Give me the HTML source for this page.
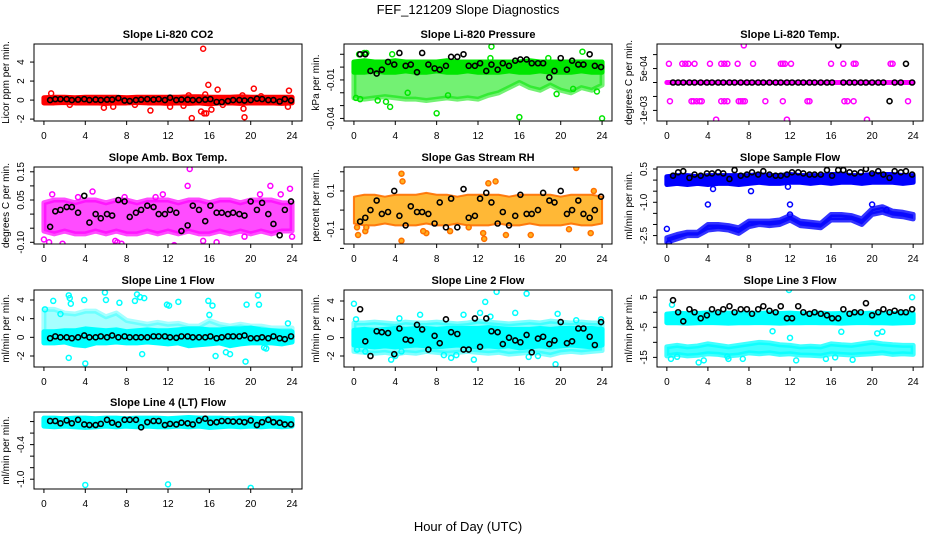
<!DOCTYPE html>
<html><head><meta charset="utf-8"><style>
body{margin:0;background:#fff;}
svg{display:block;font-family:"Liberation Sans",sans-serif;}
</style></head><body>
<svg id="chart" width="936" height="540" viewBox="0 0 936 540">
<rect width="936" height="540" fill="#fff"/>
<text x="468" y="14" text-anchor="middle" font-size="13">FEF_121209  Slope Diagnostics</text>
<text x="468" y="531" text-anchor="middle" font-size="13">Hour of Day (UTC)</text>
</svg>
<script>
const blackHours=[0.6,1.1,1.6,2.2,2.7,3.3,3.9,4.4,5,5.5,6.1,6.6,7.2,7.8,8.3,8.9,9.4,10,10.6,11.1,11.7,12.2,12.8,13.3,13.9,14.4,15,15.6,16.1,16.7,17.2,17.8,18.3,18.9,19.4,20,20.6,21.1,21.7,22.2,22.8,23.3,23.9];
const bandHours=[0,1,2,3,4,5,6,7,8,9,10,11,12,13,14,15,16,17,18,19,20,21,22,23,24];
const xTicks=[0,4,8,12,16,20,24];

// CO2
const co2BandLo=[-0.3,-0.3,-0.25,-0.3,-0.3,-0.3,-0.35,-0.3,-0.3,-0.25,-0.3,-0.3,-0.35,-0.3,-0.35,-0.3,-0.4,-0.3,-0.3,-0.35,-0.3,-0.3,-0.3,-0.35,-0.3];
const co2BandHi=[0.25,0.3,0.3,0.25,0.3,0.3,0.3,0.3,0.25,0.3,0.3,0.3,0.3,0.3,0.35,0.35,0.3,0.3,0.3,0.35,0.3,0.3,0.3,0.3,0.3];
const co2OutX=[0.7,15.4,15.9,16.8,20.3,23.7,14.3,19.4,10.3,15.2,15.5,15.7,16.2,19.3,5.8,6.7,12.2,23.6,2.5,8.8,14,15.6,19.2,21,13.5,17.3];
const co2OutY=[0.7,5.4,1.6,1.1,1.2,1,-1.9,-1.8,-1.1,-1.2,-1.4,-1.4,-1,-0.9,-0.8,-0.7,-0.7,-0.7,-0.5,-0.5,0.5,0.6,0.5,0.4,-0.6,-0.5];
const co2Black=[0,0.1,0.1,0.1,0,0.05,0.1,0,0.05,0,0.05,0.05,0.2,-0.05,-0.1,0,0.05,0.1,0.05,0.1,0,0.25,0,0.05,0.05,0,0,0.05,0.1,-0.2,-0.2,-0.1,0,0,-0.05,0,0.15,0.1,0,0,-0.15,0.1,-0.05];

// Pressure
const presBandLo=[-0.004,-0.004,-0.003,-0.004,-0.004,-0.003,-0.004,-0.004,-0.003,-0.004,-0.004,-0.003,-0.004,-0.004,-0.004,-0.003,-0.004,-0.004,-0.003,-0.004,-0.004,-0.004,-0.003,-0.004,-0.004];
const presBandHi=[0.004,0.005,0.004,0.004,0.005,0.004,0.004,0.004,0.004,0.005,0.004,0.004,0.004,0.004,0.004,0.004,0.004,0.005,0.004,0.004,0.004,0.004,0.004,0.004,0.004];
const presBand2Lo=[-0.024,-0.025,-0.024,-0.023,-0.024,-0.025,-0.025,-0.026,-0.025,-0.024,-0.025,-0.024,-0.025,-0.022,-0.02,-0.016,-0.012,-0.016,-0.018,-0.014,-0.018,-0.02,-0.016,-0.018,-0.014];
const presBand2Hi=[-0.003,-0.003,-0.003,-0.003,-0.003,-0.003,-0.003,-0.003,-0.003,-0.003,-0.003,-0.003,-0.003,-0.003,-0.003,-0.003,-0.003,-0.003,-0.003,-0.003,-0.003,-0.003,-0.003,-0.003,-0.003];
const presOutX=[0.2,0.5,1.2,3.5,3.7,8,16,24,13.3,22.1,0.6,1,2.3,3.1,18.8,19.6,21.2,23.5,13.2,5.2,9.1];
const presOutY=[-0.024,0.01,0.011,-0.031,0.01,-0.036,-0.039,-0.04,0.016,0.012,-0.025,0.011,-0.026,-0.027,0.007,-0.021,-0.017,-0.019,0.007,-0.02,-0.022];
const presBlack=[0.01,0.01,-0.003,-0.005,-0.002,0.004,0.002,0.011,0.001,0.002,-0.004,0.011,0.002,-0.001,-0.002,0.001,0.008,0.008,0.010,0.001,0.001,0.003,-0.003,0.002,-0.002,0.003,0.001,0.005,0.006,0.006,0.003,0.003,0.003,-0.008,-0.003,0.007,-0.002,0.005,0.002,0.002,0.010,0.001,0];

// Li-820 Temp
const tempBandLo=[0,0,0,0,0,0,0,0,0,0,0,0,0,0,0,0,0,0,0,0,0,0,0,0,0];
const tempBandHi=[0,0,0,0,0,0,0,0,0,0,0,0,0,0,0,0,0,0,0,0,0,0,0,0,0];
const tempOutX=[0.2,1.5,1.8,2.1,2.7,4.2,5.3,5.6,5.9,6.9,8.4,11.1,11.3,11.5,12.1,16,17.2,18.2,18.4,21.8,22,0.3,2.4,2.6,2.9,3.2,3.4,5.3,5.6,5.9,7,7.2,7.4,7.6,9.6,11.3,13.7,13.9,17.3,17.6,18.2,23.5,7.5,4.8,11.7,19.5];
const tempOutY=[0.00067,0.00067,0.00067,0.00067,0.00067,0.00067,0.00067,0.00067,0.00067,0.00067,0.00067,0.00067,0.00067,0.00067,0.00067,0.00067,0.00067,0.00067,0.00067,0.00067,0.00067,-0.00067,-0.00067,-0.00067,-0.00067,-0.00067,-0.00067,-0.00067,-0.00067,-0.00067,-0.00067,-0.00067,-0.00067,-0.00067,-0.00067,-0.00067,-0.00067,-0.00067,-0.00067,-0.00067,-0.00067,-0.00067,0.00133,-0.00133,-0.00133,-0.00133];
const tempBlack=[0,0,0,0,0,0,0,0,0,0,0,0,0,0,0,0,0,0,0,0,0,0,0,0,0,0,0,0,0,0.00133,0,0,0,0,0,0,0,0,-0.00067,0,0,0.00067,0];

// Amb Box Temp
const ambBandLo=[-0.06,-0.07,-0.06,-0.07,-0.07,-0.06,-0.07,-0.06,-0.07,-0.07,-0.06,-0.07,-0.06,-0.07,-0.06,-0.07,-0.07,-0.06,-0.07,-0.06,-0.07,-0.06,-0.07,-0.06,-0.06];
const ambBandHi=[0.04,0.05,0.05,0.04,0.05,0.05,0.04,0.05,0.05,0.04,0.05,0.05,0.05,0.04,0.05,0.05,0.04,0.05,0.05,0.04,0.05,0.05,0.05,0.04,0.04];
const ambOutX=[0,0.5,0.8,1.8,4.7,6.9,7.1,7.5,12.6,14.1,13.9,15.4,16.7,21.9,23.8,24,19.4,10.8,11.5,7.8,3.3,20.9,22.9];
const ambOutY=[-0.09,-0.1,0.07,-0.105,0.08,-0.095,-0.1,-0.105,-0.11,0.16,0.1,-0.095,-0.1,0.1,0.09,-0.08,-0.08,0.06,0.07,0.06,0.06,0.07,0.07];
const ambBlack=[-0.045,0.01,0.015,0.025,0.025,0.005,0.065,-0.03,0,-0.015,0,-0.005,0.05,0.045,-0.01,0.005,0.015,0.03,0.025,0,0,0.015,0.005,-0.06,-0.04,0.03,0.015,-0.025,0.03,0.005,0.005,0,0.005,0,-0.005,0.045,0.015,0.04,0,-0.035,-0.075,0.015,0.045];

// Gas Stream RH
const rhBandLo=[-0.07,-0.08,-0.08,-0.07,-0.08,-0.08,-0.08,-0.07,-0.08,-0.08,-0.07,-0.08,-0.08,-0.08,-0.07,-0.08,-0.08,-0.07,-0.08,-0.08,-0.08,-0.07,-0.08,-0.08,-0.07];
const rhBandHi=[0.07,0.08,0.08,0.07,0.08,0.08,0.08,0.09,0.08,0.08,0.07,0.08,0.08,0.08,0.08,0.07,0.08,0.08,0.08,0.08,0.07,0.08,0.08,0.08,0.07];
const rhOutX=[0.3,0.4,1.1,4.6,4.7,4.6,7,6.7,13,13.7,21.5,20.8,22.9,14.7,12.5,12.6,11.1,9.3,17.1,1.2,23.2];
const rhOutY=[-0.09,-0.13,-0.11,0.19,0.15,-0.16,-0.12,-0.11,0.14,0.15,0.22,-0.1,-0.12,-0.13,-0.12,-0.15,-0.09,-0.11,-0.13,-0.09,0.1];
const rhBlack=[-0.06,-0.04,0,0.05,-0.02,-0.01,0.1,-0.03,-0.08,0.02,-0.01,-0.01,-0.02,-0.07,0.04,-0.09,0.06,-0.09,0.11,-0.04,-0.03,0.06,0.09,0.04,-0.07,-0.01,-0.08,-0.03,0.08,-0.02,-0.02,0.00,0.09,0.05,0.04,0.1,-0.02,0,0.05,-0.02,-0.04,0,0.07];

// Sample Flow
const sfBandLo=[-0.2,-0.15,-0.2,-0.15,-0.2,-0.15,-0.15,-0.2,-0.15,-0.1,-0.15,-0.15,-0.1,-0.1,-0.15,-0.1,-0.15,-0.1,-0.1,-0.15,-0.1,-0.1,-0.1,-0.15,-0.1];
const sfBandHi=[0.15,0.2,0.2,0.15,0.2,0.2,0.2,0.2,0.2,0.25,0.2,0.2,0.25,0.2,0.2,0.2,0.25,0.25,0.2,0.2,0.25,0.25,0.25,0.2,0.2];
const sfBand2Lo=[-2.8,-2.65,-2.5,-2.5,-2.25,-2.2,-2.25,-2.4,-2.1,-2.0,-2.05,-2.0,-1.8,-2.05,-2.1,-2.15,-1.8,-1.8,-1.8,-2.0,-1.55,-1.45,-1.6,-1.65,-1.75];
const sfBand2Hi=[-2.6,-2.45,-2.35,-2.35,-2.0,-2.0,-2.05,-2.15,-1.85,-1.85,-1.85,-1.8,-1.6,-1.85,-1.9,-1.95,-1.55,-1.55,-1.6,-1.75,-1.3,-1.2,-1.4,-1.45,-1.55];
const sfOutX=[0,4,4.5,8.2,12,20,21.4,0.2,12,11.8];
const sfOutY=[-2.2,-1.1,-0.4,-0.5,-1.1,-1.1,-1.35,-2.85,-1.55,-0.3];
const sfBlack=[0.2,0.35,0.4,0.1,0.25,0.2,0.3,0.3,0.35,0.3,0.05,0.45,0.2,0.25,0.35,0.25,0.4,0.25,0.2,0.2,0.25,0.35,0.35,0.3,0.25,0.25,0.25,0.45,0.2,0.45,0.45,0.35,0.3,0.35,0.5,0.3,0.4,0.25,0.1,0.4,0.35,0.4,0.25];

// Line 1
const l1BandLo=[-0.6,-0.6,-0.5,-0.8,-0.9,-0.6,-0.6,-0.5,-0.6,-0.6,-0.5,-0.6,-0.7,-0.6,-0.9,-0.8,-0.7,-0.6,-0.9,-0.7,-0.6,-0.6,-0.6,-0.7,-0.5];
const l1BandHi=[0.6,0.6,0.7,0.7,0.9,0.8,0.7,0.8,0.6,0.7,0.8,0.7,0.7,0.8,0.9,0.9,0.8,0.8,0.9,0.9,1,0.8,0.7,0.6,0.6];
const l1Band2Lo=[0.6,0.6,0.6,0.6,0.6,0.6,0.6,0.6,0.6,0.6,0.6,0.6,0.6,0.6,0.6,0.6,0.6,0.6,0.6,0.6,0.6,0.6,0.6,0.6,0.6];
const l1Band2Hi=[3,3,2.6,2.5,2.8,2.8,2.2,2.6,1.8,1.6,1.4,1.6,1.4,1.5,1.2,1.2,1.8,1.4,1.2,1.4,1.2,1.2,1,1,1];
const l1OutX=[0.1,0.9,2.4,2.5,2.6,3.9,4,5.9,6,7.3,8.8,9,9.3,9.5,9.7,11.9,12.1,13,15.9,16,16.3,19.5,19.6,20.7,20.8,2.4,1.6,16.6,17.6,18,21.5,21.3,23.6];
const l1OutY=[3,3.9,4.5,4.2,3.6,4,-2.8,4.8,4,3.7,3.9,4.6,4.3,-1.8,4.2,3.5,3.4,3.8,3.9,2.4,3.4,-2.6,3.5,4.5,3.5,-2.2,2.5,-2,-1.6,-1.8,-1.2,-1.1,1.5];
const l1Black=[-0.1,0.1,0,0,-0.1,0,0.2,0,0,0.1,0,0.2,0,0.1,0,0,0,0,0.1,0.1,0.1,0,-0.05,0.1,0.1,0,0,0,0.1,-0.1,0,0.1,0.1,0.1,0.2,-0.1,-0.1,0,-0.1,0.1,-0.1,-0.2,0.1];

// Line 2
const l2BandLo=[-0.8,-0.9,-1,-0.9,-1,-0.9,-0.8,-0.9,-1,-0.9,-0.8,-0.9,-1,-0.9,-1,-0.9,-1.1,-1,-0.9,-1,-0.9,-0.8,-0.9,-1,-0.8];
const l2BandHi=[0.8,0.9,0.8,0.9,1,0.9,1,1,0.9,1,1,1,1,1.1,1,0.9,0.9,0.9,1,0.9,1,1,1,1,0.9];
const l2Band2Lo=[-1.5,-1.6,-1.7,-1.6,-1.8,-1.6,-1.7,-1.5,-1.6,-1.7,-1.6,-1.5,-1.6,-1.7,-1.6,-1.8,-1.7,-1.6,-1.7,-1.9,-1.6,-1.5,-1.6,-1.5,-1.4];
const l2Band2Hi=[1.6,1.6,1.7,1.6,1.5,1.7,1.6,1.6,1.7,1.6,1.5,1.6,1.8,1.7,1.6,1.5,1.6,1.7,1.6,1.8,1.7,1.6,1.7,1.6,1.6];
const l2OutX=[0,0.2,0.3,3.6,4.4,4.6,6.4,8.7,9.4,9.9,11.6,12.2,12.7,13.8,15.6,16.7,16.9,19.7,19.5,23.9,1.1,4,10.6,13.2,17.8,21.5];
const l2OutY=[3.7,2,-1.3,-2.4,2.1,-1.5,2.5,-1.9,-2.2,-1.9,-2.4,2.7,3.9,5,2.7,4.8,-2.1,2.6,-2.9,2,-1.5,-2,2.5,2.3,-2,1.9];
const l2Black=[3.1,-0.4,-2,0.7,0.6,0.5,-1.8,1,-0.2,-0.3,1.4,0.9,-1.3,0.2,-0.6,2,0.6,0.4,-1.3,-1.3,2.1,-1,2.1,0.7,0.6,-0.7,0,-0.3,-0.5,0.3,-1.6,-0.1,0.1,-0.7,-0.3,1.7,-0.6,-0.4,1,1,0.1,-0.8,1.7];

// Line 3
const l3BandLo=[-3.5,-3.5,-3.6,-3.5,-3.4,-3.5,-3.6,-3.5,-3.5,-3.4,-3.5,-3.6,-3.5,-3.5,-3.4,-3.5,-3.5,-3.6,-3.5,-3.4,-3.5,-3.5,-3.6,-3.5,-3.4];
const l3BandHi=[-0.6,-0.3,-0.5,-0.4,-0.2,-0.4,-0.3,-0.5,-0.3,-0.4,-0.2,-0.4,-0.3,-0.5,-0.4,-0.3,-0.5,-0.4,-0.3,-0.4,-0.3,-0.5,-0.4,-0.3,-0.5];
const l3Band2Lo=[-14.5,-14,-14.5,-14.3,-13.8,-14,-14.5,-14.2,-13.5,-13.8,-13.5,-14,-13.8,-14.2,-14.3,-14.5,-13.8,-14,-14.2,-14,-13.8,-13.5,-14,-13.8,-14];
const l3Band2Hi=[-11.5,-11,-11.5,-11.2,-10.5,-11,-11.5,-11,-10.5,-10,-10.2,-10.8,-11,-11.5,-11.3,-11.5,-10.5,-10.8,-11,-10.5,-10,-10.5,-10.8,-11,-11];
const l3OutX=[0.4,0.5,1,3.1,3.6,10.3,12,12.6,15.5,18.1,17,20.5,21,11.9,23.9,4,6,7.4,5.9,0.2,9.7,16.4];
const l3OutY=[-15.5,2.5,-14.8,-16.7,-16,-6.3,-8.5,-16,-15.5,-15.8,-6.5,-7,-6.5,7.4,5,-1.5,-15.5,-15.5,-14.7,-2,-1,-15];
const l3Black=[4,0,-3,1,0,-2,-1,1,0,1,2,0,1,1,-0.5,1,2,0.5,0,2,-2,-2,2,0,-0.5,0,-0.5,-1,-2,-2,1,-0.5,0,0,3,-1,0,1,0,0.5,0,0,1];

// Line 4
const l4BandLo=[-0.08,-0.09,-0.08,-0.09,-0.1,-0.09,-0.08,-0.09,-0.08,-0.09,-0.08,-0.09,-0.09,-0.08,-0.09,-0.08,-0.1,-0.09,-0.08,-0.09,-0.08,-0.09,-0.08,-0.09,-0.08];
const l4BandHi=[0.06,0.06,0.05,0.06,0.06,0.05,0.06,0.06,0.05,0.06,0.06,0.06,0.05,0.06,0.07,0.06,0.06,0.06,0.05,0.06,0.06,0.05,0.06,0.06,0.05];
const l4OutX=[4,12,20];
const l4OutY=[-1.1,-1.09,-1.15];
const l4Black=[0.01,0.01,-0.03,0.02,-0.03,0.03,-0.05,-0.06,-0.06,-0.04,0.03,-0.02,-0.05,0.03,0.03,0.03,-0.1,-0.01,0.01,0.01,-0.06,-0.04,-0.05,-0.02,-0.03,-0.05,0.02,0.05,-0.02,-0.01,0.01,0.01,0,0,-0.01,0.02,-0.06,-0.01,0.03,-0.01,-0.02,-0.05,-0.05];

const panels=[
 {name:'co2',title:'Slope Li-820 CO2',ylab:'Licor ppm per min.',col:0,row:0,dom:[-2.2,5.9],ticks:[-2,0,2,4],labels:['-2','0','2','4'],color:'#ff0000',lo:co2BandLo,hi:co2BandHi,ox:co2OutX,oy:co2OutY,blk:co2Black},
 {name:'pressure',title:'Slope Li-820 Pressure',ylab:'kPa per min.',col:1,row:0,dom:[-0.042,0.018],ticks:[-0.04,-0.03,-0.02,-0.01,0,0.01],labels:['-0.04','','','-0.01','',''],color:'#00e600',lo:presBandLo,hi:presBandHi,lo2:presBand2Lo,hi2:presBand2Hi,op2:0.55,ox:presOutX,oy:presOutY,blk:presBlack},
 {name:'li820-temp',title:'Slope Li-820 Temp.',ylab:'degrees C per min.',col:2,row:0,dom:[-0.00138,0.00138],ticks:[-0.001,-0.0005,0,0.0005,0.001],labels:['-1e-03','','','5e-04',''],color:'#ff00ff',lo:tempBandLo,hi:tempBandHi,ox:tempOutX,oy:tempOutY,blk:tempBlack},
 {name:'amb-box-temp',title:'Slope Amb. Box Temp.',ylab:'degrees C per min.',col:0,row:1,dom:[-0.106,0.167],ticks:[-0.1,-0.05,0,0.05,0.1,0.15],labels:['-0.10','','','0.05','','0.15'],color:'#ff00ff',lo:ambBandLo,hi:ambBandHi,bandOp:0.7,ox:ambOutX,oy:ambOutY,blk:ambBlack},
 {name:'gas-stream-rh',title:'Slope Gas Stream RH',ylab:'percent per min.',col:1,row:1,dom:[-0.177,0.225],ticks:[-0.2,-0.1,0,0.1,0.2],labels:['','-0.1','','0.1',''],color:'#ffb020',edge:'#ff7000',sw:2,lo:rhBandLo,hi:rhBandHi,bandOp:0.9,ox:rhOutX,oy:rhOutY,blk:rhBlack},
 {name:'sample-flow',title:'Slope Sample Flow',ylab:'ml/min per min.',col:2,row:1,dom:[-2.88,0.59],ticks:[-2.5,-2,-1.5,-1,-0.5,0,0.5],labels:['-2.5','','','-1.0','','','0.5'],color:'#0000ff',lo:sfBandLo,hi:sfBandHi,lo2:sfBand2Lo,hi2:sfBand2Hi,op2:0.8,ox:sfOutX,oy:sfOutY,blk:sfBlack},
 {name:'line1-flow',title:'Slope Line 1 Flow',ylab:'ml/min per min.',col:0,row:2,dom:[-3.18,5.07],ticks:[-2,0,2,4],labels:['-2','0','2','4'],color:'#00ffff',lo:l1BandLo,hi:l1BandHi,lo2:l1Band2Lo,hi2:l1Band2Hi,op2:0.35,ox:l1OutX,oy:l1OutY,blk:l1Black},
 {name:'line2-flow',title:'Slope Line 2 Flow',ylab:'ml/min per min.',col:1,row:2,dom:[-3.2,5.2],ticks:[-2,0,2,4],labels:['-2','0','2','4'],color:'#00ffff',lo:l2BandLo,hi:l2BandHi,lo2:l2Band2Lo,hi2:l2Band2Hi,op2:0.5,ox:l2OutX,oy:l2OutY,blk:l2Black},
 {name:'line3-flow',title:'Slope Line 3 Flow',ylab:'ml/min per min.',col:2,row:2,dom:[-18.2,7.4],ticks:[-15,-10,-5,0,5],labels:['-15','','-5','','5'],color:'#00ffff',lo:l3BandLo,hi:l3BandHi,lo2:l3Band2Lo,hi2:l3Band2Hi,op2:0.75,ox:l3OutX,oy:l3OutY,blk:l3Black},
 {name:'line4-flow',title:'Slope Line 4 (LT) Flow',ylab:'ml/min per min.',col:0,row:3,dom:[-1.17,0.166],ticks:[-1,-0.8,-0.6,-0.4,-0.2,0],labels:['-1.0','','','-0.4','',''],color:'#00ffff',lo:l4BandLo,hi:l4BandHi,ox:l4OutX,oy:l4OutY,blk:l4Black}
];

const NS='http://www.w3.org/2000/svg';
const svg=document.getElementById('chart');
const colLeft=[34,344,657], colW=[268,268,266], rowTop=[44,167,290,412], boxH=77;
const xDom=[-0.96,24.96];
function mk(tag,attrs,parent){const e=document.createElementNS(NS,tag);for(const k in attrs)e.setAttribute(k,attrs[k]);(parent||svg).appendChild(e);return e;}

panels.forEach(p=>{
  const L=colLeft[p.col],W=colW[p.col],T=rowTop[p.row],B=T+boxH;
  const xs=v=>L+(v-xDom[0])/(xDom[1]-xDom[0])*W;
  const ys=v=>B-(v-p.dom[0])/(p.dom[1]-p.dom[0])*boxH;
  const g=mk('g',{});
  
  
  const clip=mk('clipPath',{id:'clip-'+p.name},g);
  mk('rect',{x:L,y:T,width:W,height:boxH},clip);
  const plot=mk('g',{'clip-path':'url(#clip-'+p.name+')'},g);
  
  
  function band(lo,hi,op,nm){
    let pts=bandHours.map((h,i)=>xs(h)+','+ys(hi[i]));
    for(let i=bandHours.length-1;i>=0;i--)pts.push(xs(bandHours[i])+','+ys(lo[i]));
    const e=mk('polygon',{points:pts.join(' '),fill:p.color,stroke:p.edge||p.color,'stroke-width':p.sw||5,'stroke-linejoin':'round','fill-opacity':op,'stroke-opacity':op},plot);
    
    
  }
  if(p.lo2)band(p.lo2,p.hi2,p.op2||0.5,p.name+'-secondary-cluster');
  band(p.lo,p.hi,p.bandOp||1,p.name+'-main-cluster');
  p.ox.forEach((x,i)=>{
    const c=mk('circle',{cx:xs(x),cy:ys(p.oy[i]),r:2.5,fill:p.edge?p.color:'none',stroke:p.edge||p.color,'stroke-width':1.5},plot);
    
    
  });
  blackHours.forEach((x,i)=>{
    const c=mk('circle',{cx:xs(x),cy:ys(p.blk[i]),r:2.5,fill:'none',stroke:'#000','stroke-width':1.6},plot);
    
    
  });
  const fr=mk('rect',{x:L,y:T,width:W,height:boxH,fill:'none',stroke:'#000','stroke-width':1},g);
  
  
  const tt=mk('text',{x:L+W/2,y:T-6,'text-anchor':'middle','font-size':11,'font-weight':'bold'},g);
  tt.textContent=p.title;
  
  
  xTicks.forEach(t=>{
    const x=xs(t);
    mk('line',{x1:x,x2:x,y1:B,y2:B+4,stroke:'#000'},g);
    const tx=mk('text',{x:x,y:B+18,'text-anchor':'middle','font-size':10},g);
    tx.textContent=t;
    
    
  });
  p.ticks.forEach((t,i)=>{
    const y=ys(t);
    mk('line',{x1:L-4,x2:L,y1:y,y2:y,stroke:'#000'},g);
    if(p.labels[i]){
      const tx=mk('text',{x:L-10,y:y,'text-anchor':'middle','font-size':10,transform:'rotate(-90 '+(L-10)+' '+y+')'},g);
      tx.textContent=p.labels[i];
      
      
    }
  });
  const yl=mk('text',{x:L-25,y:T+boxH/2,'text-anchor':'middle','font-size':10,transform:'rotate(-90 '+(L-25)+' '+(T+boxH/2)+')'},g);
  yl.textContent=p.ylab;
  
  
});
</script>
</body></html>
